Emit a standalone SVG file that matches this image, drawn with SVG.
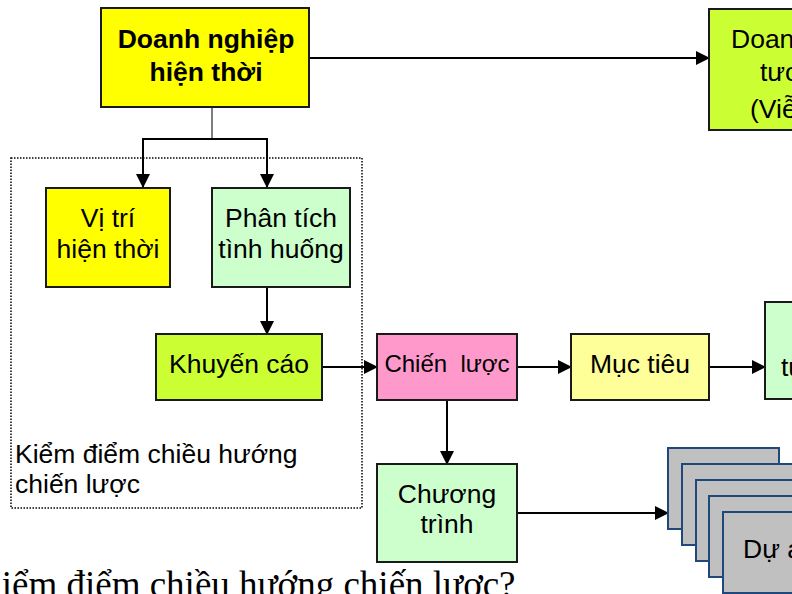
<svg xmlns="http://www.w3.org/2000/svg" width="792" height="594" viewBox="0 0 792 594">
<style>
.box{stroke:#1a1a1a;stroke-width:2}
.t{font-family:"Liberation Sans",Arial,sans-serif;font-size:26.5px;fill:#000;text-anchor:middle}
.s{text-anchor:start}
.b{font-weight:bold}
.c{stroke:#000;stroke-width:2;fill:none}
.card{fill:#C0C0C0;stroke:#1F497D;stroke-width:2}
</style>
<defs>
<marker id="ah" markerUnits="userSpaceOnUse" markerWidth="14" markerHeight="14" refX="13" refY="7" orient="auto">
<path d="M0,0 L14,7 L0,14 z" fill="#000"/>
</marker>
</defs>
<rect width="792" height="594" fill="#fff"/>

<g id="review-frame">
<rect x="11" y="158" width="351" height="350" fill="none" stroke="#000" stroke-width="1.5" stroke-dasharray="1.5 1.5"/>
<text class="t s" x="15" y="463">Kiểm điểm chiều hướng</text>
<text class="t s" x="15" y="493">chiến lược</text>
</g>

<g id="connectors">
<line x1="212" y1="107" x2="212" y2="139" stroke="#555" stroke-width="1.5"/>
<path class="c" d="M143,187 V139 H267 V187" marker-end="url(#ah)"/>
<path class="c" d="M143,139 V187" marker-end="url(#ah)"/>
<path class="c" d="M309,58 H709" marker-end="url(#ah)"/>
<path class="c" d="M267,287 V334" marker-end="url(#ah)"/>
<path class="c" d="M322,367 H377" marker-end="url(#ah)"/>
<path class="c" d="M517,367 H571" marker-end="url(#ah)"/>
<path class="c" d="M709,367 H765" marker-end="url(#ah)"/>
<path class="c" d="M447,400 V464" marker-end="url(#ah)"/>
<path class="c" d="M517,513 H668" marker-end="url(#ah)"/>
</g>

<g id="doanh-nghiep-hien-thoi">
<rect class="box" x="101" y="8" width="208" height="99" fill="#FFFF00"/>
<text class="t b" x="206" y="48">Doanh nghiệp</text>
<text class="t b" x="206" y="81">hiện thời</text>
</g>

<g id="doanh-nghiep-tuong-lai">
<rect class="box" x="709" y="9" width="182" height="121" fill="#CCFF33"/>
<text class="t s" x="731" y="48">Doanh nghiệp</text>
<text class="t s" x="760" y="81">tương lai</text>
<text class="t s" x="750" y="118">(Viễn cảnh)</text>
</g>

<g id="vi-tri-hien-thoi">
<rect class="box" x="46" y="188" width="124" height="99" fill="#FFFF00"/>
<text class="t" x="108" y="227">Vị trí</text>
<text class="t" x="108" y="258">hiện thời</text>
</g>

<g id="phan-tich-tinh-huong">
<rect class="box" x="212" y="188" width="138" height="99" fill="#CCFFCC"/>
<text class="t" x="281" y="227">Phân tích</text>
<text class="t" x="281" y="258">tình huống</text>
</g>

<g id="khuyen-cao">
<rect class="box" x="156" y="334" width="166" height="66" fill="#CCFF33"/>
<text class="t" x="239" y="373">Khuyến cáo</text>
</g>

<g id="chien-luoc">
<rect class="box" x="377" y="334" width="140" height="66" fill="#FF99CC"/>
<text class="t" x="447" y="372" style="white-space:pre;font-size:24px">Chiến  lược</text>
</g>

<g id="muc-tieu">
<rect class="box" x="571" y="334" width="138" height="66" fill="#FFFF99"/>
<text class="t" x="640" y="373">Mục tiêu</text>
</g>

<g id="right-box">
<rect class="box" x="765" y="302" width="140" height="97" fill="#CCFFCC"/>
<text class="t s" x="781" y="376">tương lai</text>
</g>

<g id="chuong-trinh">
<rect class="box" x="377" y="464" width="140" height="98" fill="#CCFFCC"/>
<text class="t" x="447" y="503">Chương</text>
<text class="t" x="447" y="533">trình</text>
</g>

<g id="du-an">
<rect class="card" x="668" y="448" width="111" height="81"/>
<rect class="card" x="682" y="464" width="111" height="81"/>
<rect class="card" x="696" y="480" width="111" height="81"/>
<rect class="card" x="709" y="496" width="111" height="81"/>
<rect class="card" x="723" y="512" width="111" height="81"/>
<text class="t s" x="743" y="558">Dự án</text>
</g>

<text x="-25" y="597" font-family="'Liberation Serif','Times New Roman',serif" font-size="37" fill="#000">Kiểm điểm chiều hướng chiến lược?</text>
</svg>
